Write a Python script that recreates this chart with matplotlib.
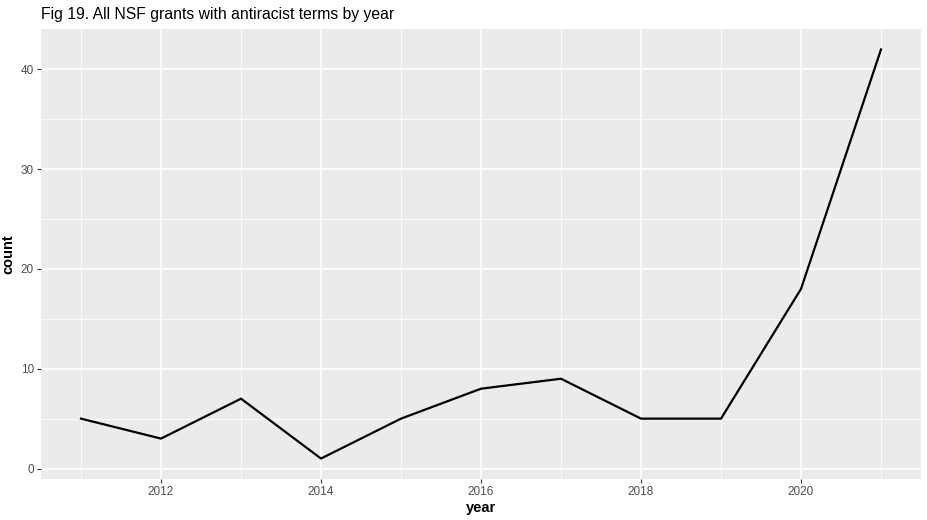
import numpy as np
import matplotlib
matplotlib.use('Agg')
import matplotlib.pyplot as plt

plt.rcParams['font.family'] = ['Liberation Sans', 'DejaVu Sans']

years = [2011, 2012, 2013, 2014, 2015, 2016, 2017, 2018, 2019, 2020, 2021]
counts = [5, 3, 7, 1, 5, 8, 9, 5, 5, 18, 42]

fig = plt.figure(figsize=(9.28, 5.2), dpi=100)
ax = fig.add_axes([41 / 928, 1 - 479 / 520, (921 - 41) / 928, (479 - 29) / 520])
ax.set_facecolor('#EBEBEB')
for s in ax.spines.values():
    s.set_visible(False)

# ggplot-like grid: minor thin, major thicker
for x in np.arange(2011, 2022, 2):
    ax.axvline(x, color='white', lw=0.6, zorder=0)
for y in [5, 15, 25, 35]:
    ax.axhline(y, color='white', lw=0.6, zorder=0)
for x in [2012, 2014, 2016, 2018, 2020]:
    ax.axvline(x, color='white', lw=1.2, zorder=0)
for y in [0, 10, 20, 30, 40]:
    ax.axhline(y, color='white', lw=1.2, zorder=0)

ax.plot(years, counts, color='black', lw=1.6, zorder=3)

span = max(counts) - min(counts)
ax.set_ylim(min(counts) - 0.05 * span, max(counts) + 0.05 * span)
ax.set_xlim(2010.5, 2021.5)
ax.set_xticks([2012, 2014, 2016, 2018, 2020])
ax.set_yticks([0, 10, 20, 30, 40])
ax.tick_params(colors='#333333', labelsize=8.5, length=3, width=0.8, pad=2)
ax.tick_params(axis='x', labelcolor='#4D4D4D')
ax.tick_params(axis='y', labelcolor='#4D4D4D')

ax.set_xlabel('year', fontsize=10.5, fontweight='bold', labelpad=2)
ax.set_ylabel('count', fontsize=10.5, fontweight='bold', labelpad=4)
fig.text(41 / 928, 1 - 14.5 / 520, 'Fig 19. All NSF grants with antiracist terms by year',
         fontsize=11.3, va='center', ha='left')

fig.savefig('out.png', dpi=100)
